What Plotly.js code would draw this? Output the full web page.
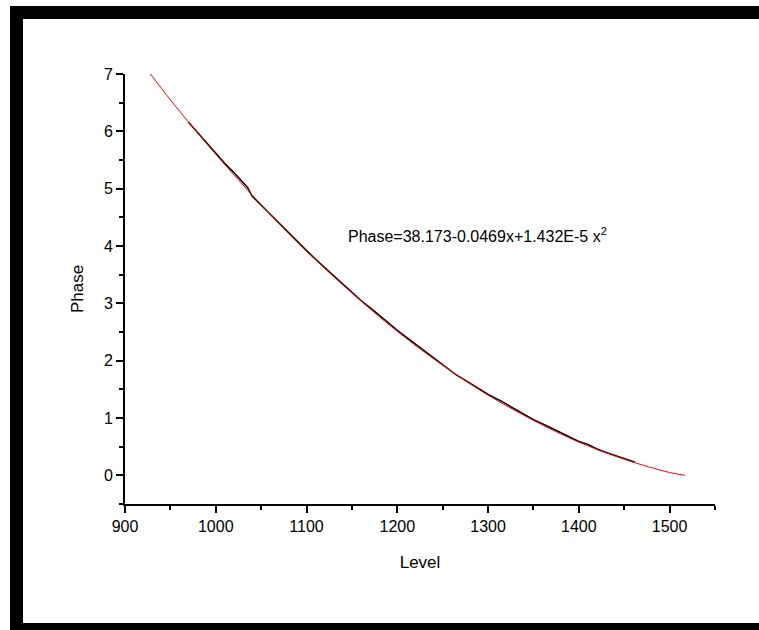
<!DOCTYPE html>
<html><head><meta charset="utf-8">
<script src="https://cdn.plot.ly/plotly-3.0.1.min.js"></script>
<style>html,body{margin:0;padding:0;background:#fff;overflow:hidden;}#chart{width:759px;height:630px;}</style>
</head><body><div id="chart"></div>
<script>
// Measured data (black)
const levelData = [970,980,990,1000,1010,1020,1030,1035,1040,1050,1060,1075,1090,1100,1110,1125,1140,1150,1160,1175,1190,1200,1215,1230,1250,1265,1280,1300,1315,1330,1350,1365,1380,1400,1410,1420,1430,1440,1450,1462];
const phaseData = [6.16,5.98,5.79,5.62,5.44,5.28,5.10,5.02,4.87,4.71,4.55,4.32,4.07,3.92,3.77,3.55,3.34,3.19,3.05,2.86,2.66,2.53,2.35,2.17,1.93,1.75,1.61,1.41,1.29,1.15,0.97,0.86,0.74,0.59,0.54,0.46,0.40,0.35,0.29,0.23];
// Fit curve (red)
const levelFit = [928,950,1000,1050,1100,1150,1200,1250,1300,1350,1400,1450,1500,1517];
const phaseFit = [7.0,6.55,5.6,4.72,3.91,3.18,2.51,1.92,1.40,0.96,0.58,0.28,0.05,0.0];
const xTicks = [900,1000,1100,1200,1300,1400,1500];
const yTicks = [0,1,2,3,4,5,6,7];
const fitLabel = 'Phase=38.173-0.0469x+1.432E-5 x<sup>2</sup>';

const fontFam = '"Liberation Sans", Arial, sans-serif';
const traces = [
  {x: levelData, y: phaseData, mode: 'lines', line: {color: '#000', width: 1.5}, hoverinfo: 'skip'},
  {x: levelFit, y: phaseFit, mode: 'lines', line: {color: '#ff0000', width: 1, shape: 'spline'}, hoverinfo: 'skip'}
];
function px2x(p){return (p-125)/590;}
function py2y(p){return (504-p)/430;}
const band = (x0,x1,y0,y1)=>({type:'rect',xref:'paper',yref:'paper',x0:px2x(x0),x1:px2x(x1),y0:py2y(y1),y1:py2y(y0),fillcolor:'#000',line:{width:0},layer:'above'});
const layout = {
  width: 759, height: 630,
  margin: {l: 125, r: 44, t: 74, b: 126},
  paper_bgcolor: '#fff', plot_bgcolor: '#fff',
  showlegend: false,
  font: {family: fontFam, color: '#000', size: 16},
  xaxis: {
    range: [900, 1550], tickvals: xTicks, ticktext: xTicks.map(String),
    showgrid: false, zeroline: false, showline: true, linecolor: '#000', linewidth: 2,
    ticks: 'outside', ticklen: 7, tickwidth: 2, tickcolor: '#000',
    minor: {dtick: 50, ticks: 'outside', ticklen: 4, tickwidth: 2, tickcolor: '#000', showgrid: false},
    tickfont: {size: 16, family: fontFam},
    title: {text: 'Level', font: {size: 17, family: fontFam}, standoff: 22}
  },
  yaxis: {
    range: [-0.5, 7], tickvals: yTicks, ticktext: yTicks.map(String),
    showgrid: false, zeroline: false, showline: true, linecolor: '#000', linewidth: 2,
    ticks: 'outside', ticklen: 7, tickwidth: 2, tickcolor: '#000',
    minor: {dtick: 0.5, ticks: 'outside', ticklen: 4, tickwidth: 2, tickcolor: '#000', showgrid: false},
    tickfont: {size: 16, family: fontFam},
    title: {text: 'Phase', font: {size: 17, family: fontFam}, standoff: 16}
  },
  annotations: [{x: 1144, y: 4.2, xref: 'x', yref: 'y', text: fitLabel, showarrow: false,
    xanchor: 'left', yanchor: 'middle', font: {size: 16, family: fontFam, color: '#000'}}],
  shapes: [
    band(10, 759, 6, 19),
    band(10, 23, 6, 630),
    band(10, 759, 623, 630)
  ]
};
Plotly.newPlot('chart', traces, layout, {displayModeBar: false, staticPlot: true});
</script></body></html>
